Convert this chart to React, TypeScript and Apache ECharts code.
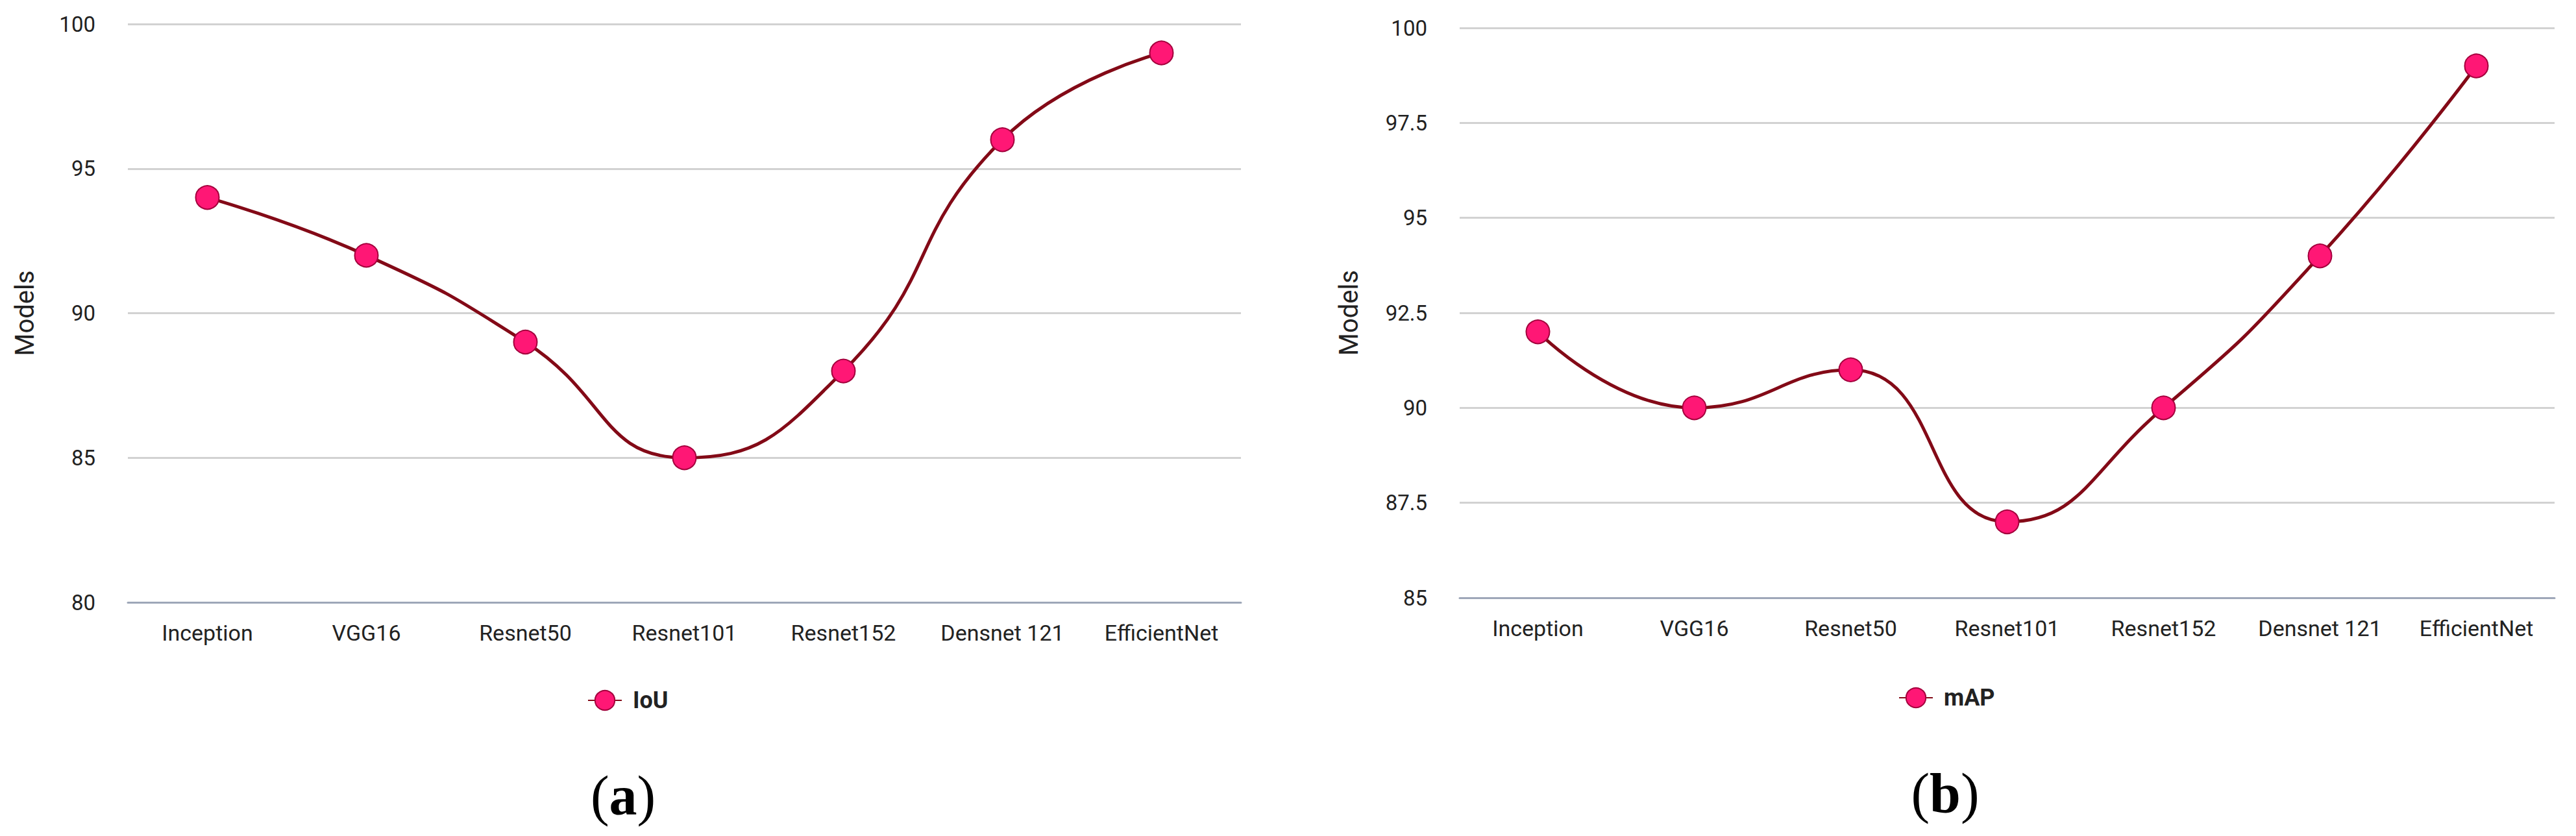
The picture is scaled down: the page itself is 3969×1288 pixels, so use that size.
import React, { useEffect, useRef } from "react";
import * as echarts from "echarts";

const categories = ["Inception", "VGG16", "Resnet50", "Resnet101", "Resnet152", "Densnet 121", "EfficientNet"];
const iouValues = [94, 92, 89, 85, 88, 96, 99];
const mapValues = [92, 90, 91, 87, 90, 94, 99];
const iouAxis = { min: 80, max: 100, interval: 5 };
const mapAxis = { min: 85, max: 100, interval: 2.5 };
const seriesNames = ["IoU", "mAP"];
const captions = ["a", "b"];

const LINE = "#830a17";
const MARKER = "#ff1775";
const MARKER_BORDER = "#a3003c";
const TEXT = "#222222";

export default function App() {
  const ref = useRef<HTMLDivElement>(null);
  useEffect(() => {
    if (!ref.current) return;
    const chart = echarts.init(ref.current, undefined, { renderer: "svg" });
    const xAxisBase = (gridIndex: number) => ({
      type: "category",
      gridIndex,
      data: categories,
      boundaryGap: true,
      axisLine: { lineStyle: { color: "#9ea7b8", width: 3 } },
      axisTick: { show: false },
      axisLabel: { fontSize: 34, color: TEXT, margin: 30, interval: 0, fontFamily: "Roboto" },
    });
    const yAxisBase = (gridIndex: number, ax: any, nameGap: number) => ({
      type: "value",
      gridIndex,
      min: ax.min,
      max: ax.max,
      interval: ax.interval,
      name: "Models",
      nameLocation: "middle",
      nameGap,
      nameTextStyle: { fontSize: 40, color: TEXT, fontFamily: "Roboto" },
      axisLine: { show: false },
      axisTick: { show: false },
      axisLabel: { fontSize: 33, color: TEXT, margin: 50, fontFamily: "Roboto" },
      splitLine: { lineStyle: { color: "#d2d2d2", width: 3 } },
    });
    const seriesBase = (name: string, data: number[], idx: number) => ({
      name,
      type: "line",
      xAxisIndex: idx,
      yAxisIndex: idx,
      data,
      smooth: 0.5,
      symbol: "circle",
      symbolSize: 36,
      lineStyle: { color: LINE, width: 5 },
      itemStyle: { color: MARKER, borderColor: MARKER_BORDER, borderWidth: 2 },
      z: 3,
    });
    const legendBase = (name: string, left: number, top: number) => ({
      data: [name],
      left,
      top,
      itemWidth: 52,
      itemHeight: 38,
      textStyle: { fontSize: 36, fontWeight: "bold", color: TEXT, fontFamily: "Roboto", padding: [0, 0, 0, 12] },
    });
    const caption = (letter: string, x: number, y: number) => ({
      type: "text",
      x,
      y,
      style: {
        text: `{p|(}{b|${letter}}{p|)}`,
        align: "center",
        verticalAlign: "middle",
        rich: {
          p: { fontSize: 86, fontFamily: "Liberation Serif", fill: "#000" },
          b: { fontSize: 86, fontFamily: "Liberation Serif", fontWeight: "bold", fill: "#000" },
        },
      },
    });
    chart.setOption({
      animation: false,
      backgroundColor: "#ffffff",
      textStyle: { fontFamily: "Roboto" },
      grid: [
        { left: 197, top: 37, width: 1715, height: 891 },
        { left: 2249, top: 43, width: 1687, height: 878 },
      ],
      xAxis: [xAxisBase(0), xAxisBase(1)],
      yAxis: [yAxisBase(0, iouAxis, 139), yAxisBase(1, mapAxis, 151)],
      legend: [legendBase(seriesNames[0], 900, 1056), legendBase(seriesNames[1], 2920, 1052)],
      series: [seriesBase(seriesNames[0], iouValues, 0), seriesBase(seriesNames[1], mapValues, 1)],
      graphic: [caption(captions[0], 960, 1226), caption(captions[1], 2997, 1222)],
    });
    return () => chart.dispose();
  }, []);
  return <div ref={ref} style={{ position: "absolute", left: 0, top: 0, width: 3969, height: 1288 }} />;
}
